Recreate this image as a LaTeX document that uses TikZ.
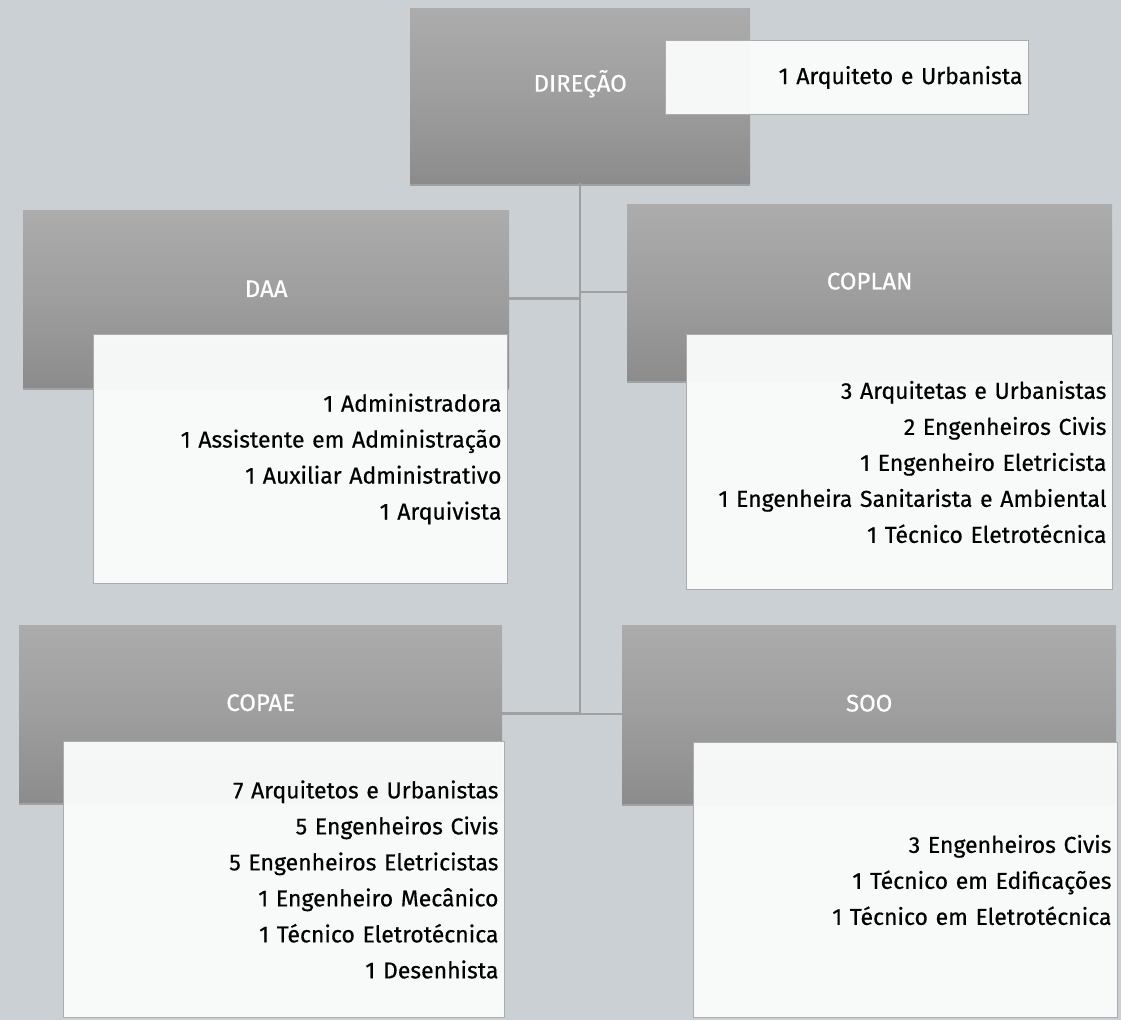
\documentclass[tikz,border=0pt]{standalone}
\usepackage{fontspec}
\setmainfont{Fira Sans}[FakeBold=0.45]
\usetikzlibrary{shadows}
\definecolor{bgc}{RGB}{203,208,212}
\definecolor{graytop}{RGB}{172,172,172}
\definecolor{graymid}{RGB}{158,158,158}
\definecolor{graybot}{RGB}{140,140,140}
\definecolor{boxfill}{RGB}{250,251,251}
\definecolor{boxline}{RGB}{172,172,172}
\definecolor{conn}{RGB}{160,160,160}
\begin{document}
\begin{tikzpicture}[x=1pt,y=-1pt,
  graybox/.style={rectangle, anchor=north west, inner sep=0pt,
    top color=graytop, bottom color=graybot, middle color=graymid, draw=none,
    drop shadow={shadow xshift=0pt, shadow yshift=-3pt, opacity=0.22, fill=black}},
  title/.style={text=white, font=\fontsize{24}{28}\selectfont},
  listbox/.style={rectangle, anchor=north west, inner xsep=6pt, inner ysep=0pt,
    fill=boxfill, fill opacity=0.96, text opacity=1, draw=boxline, line width=1pt,
    align=right, font=\fontsize{23}{36}\selectfont, text=black},
  connector/.style={draw=conn, line width=2.5pt}
]
\useasboundingbox (0,0) rectangle (1121,1020);
\fill[bgc] (0,0) rectangle (1121,1020);

% gray boxes
\node[graybox, minimum width=340pt, minimum height=175pt,
  label={[title, yshift=12pt]center:DIREÇÃO}] (dir) at (410,8) {};
\node[graybox, minimum width=486pt, minimum height=177pt,
  label={[title, yshift=10pt]center:DAA}] (daa) at (23,210) {};
\node[graybox, minimum width=485pt, minimum height=176pt,
  label={[title, yshift=11pt]center:COPLAN}] (coplan) at (627,204) {};
\node[graybox, minimum width=483pt, minimum height=177pt,
  label={[title, yshift=11pt]center:COPAE}] (copae) at (19,625) {};
\node[graybox, minimum width=494pt, minimum height=178pt,
  label={[title, yshift=11pt]center:SOO}] (soo) at (622,625) {};

% white list boxes
\node[listbox, text width=351pt, minimum height=74pt] (dirl) at (665,40)
  {1 Arquiteto e Urbanista};
\node[listbox, text width=402pt, minimum height=249pt] (daal) at (93,334)
  {1 Administradora\\1 Assistente em Administração\\1 Auxiliar Administrativo\\1 Arquivista};
\node[listbox, text width=414pt, minimum height=255pt] (coplanl) at (686,334)
  {3 Arquitetas e Urbanistas\\2 Engenheiros Civis\\1 Engenheiro Eletricista\\1 Engenheira Sanitarista e Ambiental\\1 Técnico Eletrotécnica};
\node[listbox, text width=429pt, minimum height=276pt] (copael) at (63,741)
  {7 Arquitetos e Urbanistas\\5 Engenheiros Civis\\5 Engenheiros Eletricistas\\1 Engenheiro Mecânico\\1 Técnico Eletrotécnica\\1 Desenhista};
\node[listbox, text width=412pt, minimum height=275pt] (sool) at (693,742)
  {3 Engenheiros Civis\\1 Técnico em Edificações\\1 Técnico em Eletrotécnica};

% connectors
\coordinate (trunk) at (dir.south |- copae.east);
\draw[connector] (dir.south) -- (trunk);
\draw[connector] (daa.east) -- (daa.east -| dir.south);
\draw[connector] (coplan.west) -- (coplan.west -| dir.south);
\draw[connector] (copae.east) -- (trunk);
\draw[connector] (soo.west) -- (soo.west -| dir.south);
\end{tikzpicture}
\end{document}
